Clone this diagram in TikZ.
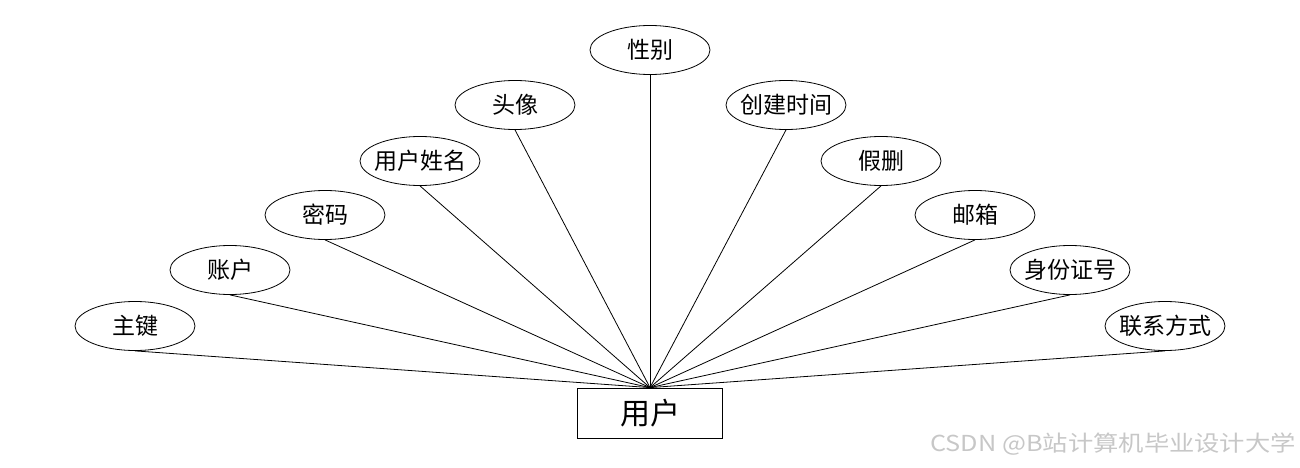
\documentclass[tikz,border=0pt]{standalone}
\usepackage{fontspec}
\setmainfont{Noto Sans CJK SC}
\usepackage{graphicx}
\usepackage{tikz}
\usetikzlibrary{shapes.geometric}

% label of zero width, so that every ellipse keeps its own size
\newcommand{\lbl}[1]{\makebox[0pt]{#1}}

\begin{document}
\begin{tikzpicture}[
  x=1pt, y=-1pt,
  attr/.style   = {draw, ellipse, line width=0.8pt, minimum width=120pt,
                   minimum height=49pt, inner sep=0pt, font=\fontsize{23}{23}\selectfont},
  entity/.style = {draw, rectangle, line width=0.8pt, minimum width=145pt,
                   minimum height=50pt, inner sep=0pt, font=\fontsize{30}{30}\selectfont},
  ln/.style     = {line width=0.8pt},
]
\useasboundingbox (0,0) rectangle (1300,468);

%% --- the entity ---
\node[entity] (user) at (650,413) {用户};

%% --- attributes, left side ---
\node[attr] (pk)    at (135,326) {\lbl{主键}};
\node[attr] (acct)  at (230,270) {\lbl{账户}};
\node[attr] (pwd)   at (325,215) {\lbl{密码}};
\node[attr] (uname) at (420,161) {\lbl{用户姓名}};
\node[attr] (avatar) at (515,105) {\lbl{头像}};

%% --- top ---
\node[attr] (sex)   at (650,50)  {\lbl{性别}};

%% --- attributes, right side ---
\node[attr] (ctime) at (786,105) {\lbl{创建时间}};
\node[attr] (del)   at (881,161) {\lbl{假删}};
\node[attr] (mail)  at (975,215) {\lbl{邮箱}};
\node[attr] (idno)  at (1070,270) {\lbl{身份证号}};
\node[attr] (tel)   at (1165,326) {\lbl{联系方式}};

%% --- connectors ---
\draw[ln] (pk.south)     -- (user.north);
\draw[ln] (acct.south)   -- (user.north);
\draw[ln] (pwd.south)    -- (user.north);
\draw[ln] (uname.south)  -- (user.north);
\draw[ln] (avatar.south) -- (user.north);
\draw[ln] (sex.south)    -- (user.north);
\draw[ln] (ctime.south)  -- (user.north);
\draw[ln] (del.south)    -- (user.north);
\draw[ln] (mail.south)   -- (user.north);
\draw[ln] (idno.south)   -- (user.north);
\draw[ln] (tel.south)    -- (user.north);

%% --- watermark ---
\node[anchor=east, text=black!22, font=\fontsize{22}{22}\selectfont, inner sep=0pt]
  (wm) at (1296,444) {\scalebox{1.15}[1]{CSDN @B站计算机毕业设计大学}};
\end{tikzpicture}
\end{document}
